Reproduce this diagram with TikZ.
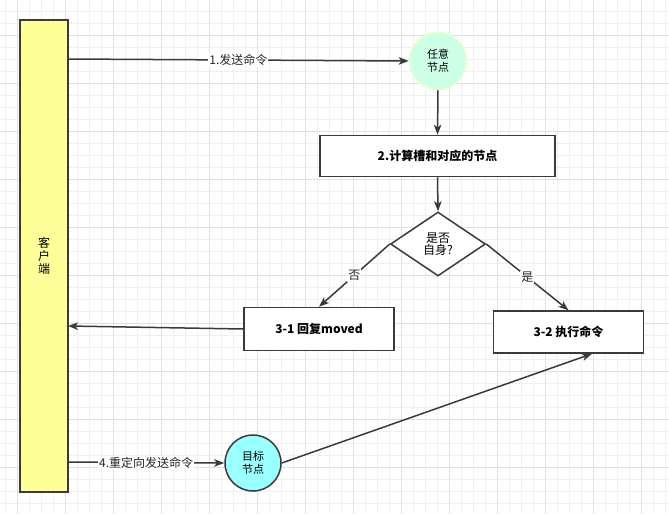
\documentclass[tikz,border=0pt]{standalone}
\usepackage{fontspec}
\setmainfont{Noto Sans CJK SC}
\usetikzlibrary{shapes.geometric,arrows.meta,calc}
\definecolor{gridminor}{HTML}{F0F0F0}
\definecolor{gridmajor}{HTML}{E0E0E0}
\definecolor{edgec}{HTML}{3A3A3A}
\definecolor{clientfill}{HTML}{FFFF99}
\definecolor{anyfill}{HTML}{CCFFE6}
\definecolor{anydraw}{HTML}{E6FFCC}
\definecolor{targetfill}{HTML}{99FFFF}
\tikzset{
  boxnode/.style={draw=edgec, line width=1.5pt, fill=white, rectangle, inner sep=0pt,
    font=\fontsize{12}{14}\selectfont\bfseries},
  circnode/.style={circle, line width=1.5pt, inner sep=0pt, minimum size=57pt, align=center,
    font=\fontsize{11}{13}\selectfont},
  conn/.style={draw=edgec, line width=1.5pt, -{Stealth[length=10pt,width=7.5pt,inset=2.5pt]}},
  lbl/.style={fill=white, inner sep=1pt, font=\fontsize{12}{13}\selectfont, text=black!85},
}
\begin{document}
\begin{tikzpicture}[x=1pt,y=-1pt]
\useasboundingbox (0,0) rectangle (669,514);
\fill[white] (0,0) rectangle (669,514);
% grid
\foreach \x in {5,17,...,665} \draw[gridminor, line width=1pt] (\x,0) -- (\x,514);
\foreach \y in {11,23,...,511} \draw[gridminor, line width=1pt] (0,\y) -- (669,\y);
\foreach \x in {17,65,...,665} \draw[gridmajor, line width=1pt] (\x,0) -- (\x,514);
\foreach \y in {35,83,...,511} \draw[gridmajor, line width=1pt] (0,\y) -- (669,\y);

% nodes
\node[draw=edgec, line width=1.5pt, fill=clientfill, rectangle, minimum width=48pt, minimum height=472pt, inner sep=0pt,
  align=center, font=\fontsize{12}{13}\selectfont] (client) at (44,256) {客\\户\\端};
\node[circnode, fill=anyfill, draw=anydraw] (any) at (438,61) {任意\\节点};
\node[boxnode, minimum width=235pt, minimum height=41pt] (calc) at (437.5,156) {2.计算槽和对应的节点};
\node[diamond, draw=edgec, line width=1.5pt, fill=white, minimum width=95pt, minimum height=64pt, inner sep=0pt,
  align=center, font=\fontsize{12}{12}\selectfont] (dec) at (438,244) {是否\\自身?};
\node[boxnode, minimum width=150pt, minimum height=43pt] (moved) at (319,329) {3-1 回复moved};
\node[boxnode, minimum width=150pt, minimum height=42pt] (exec) at (568.5,332) {3-2 执行命令};
\node[circnode, fill=targetfill, draw=edgec, minimum size=56pt] (target) at (253,463) {目标\\节点};

% free ends on the client bar and below exec
\coordinate (c1) at (68,59);
\coordinate (c2) at (68,326);
\coordinate (c3) at (68,462);
\coordinate (e1) at ($(exec.south)+(23.5,0)$);

% connectors
\draw[conn] (c1) -- node[lbl] {1.发送命令} (any.west);
\draw[conn] (any.south) -- (calc.north);
\draw[conn] (calc.south) -- (dec.north);
\draw[conn] (dec.west) -- node[lbl] {否} (moved.north);
\draw[conn] (dec.east) -- node[lbl] {是} (exec.north);
\draw[conn] (moved.west) -- (c2);
\draw[conn] (c3) -- node[lbl] {4.重定向发送命令} (target.west);
\draw[conn] (target.east) -- (e1);
\end{tikzpicture}
\end{document}
